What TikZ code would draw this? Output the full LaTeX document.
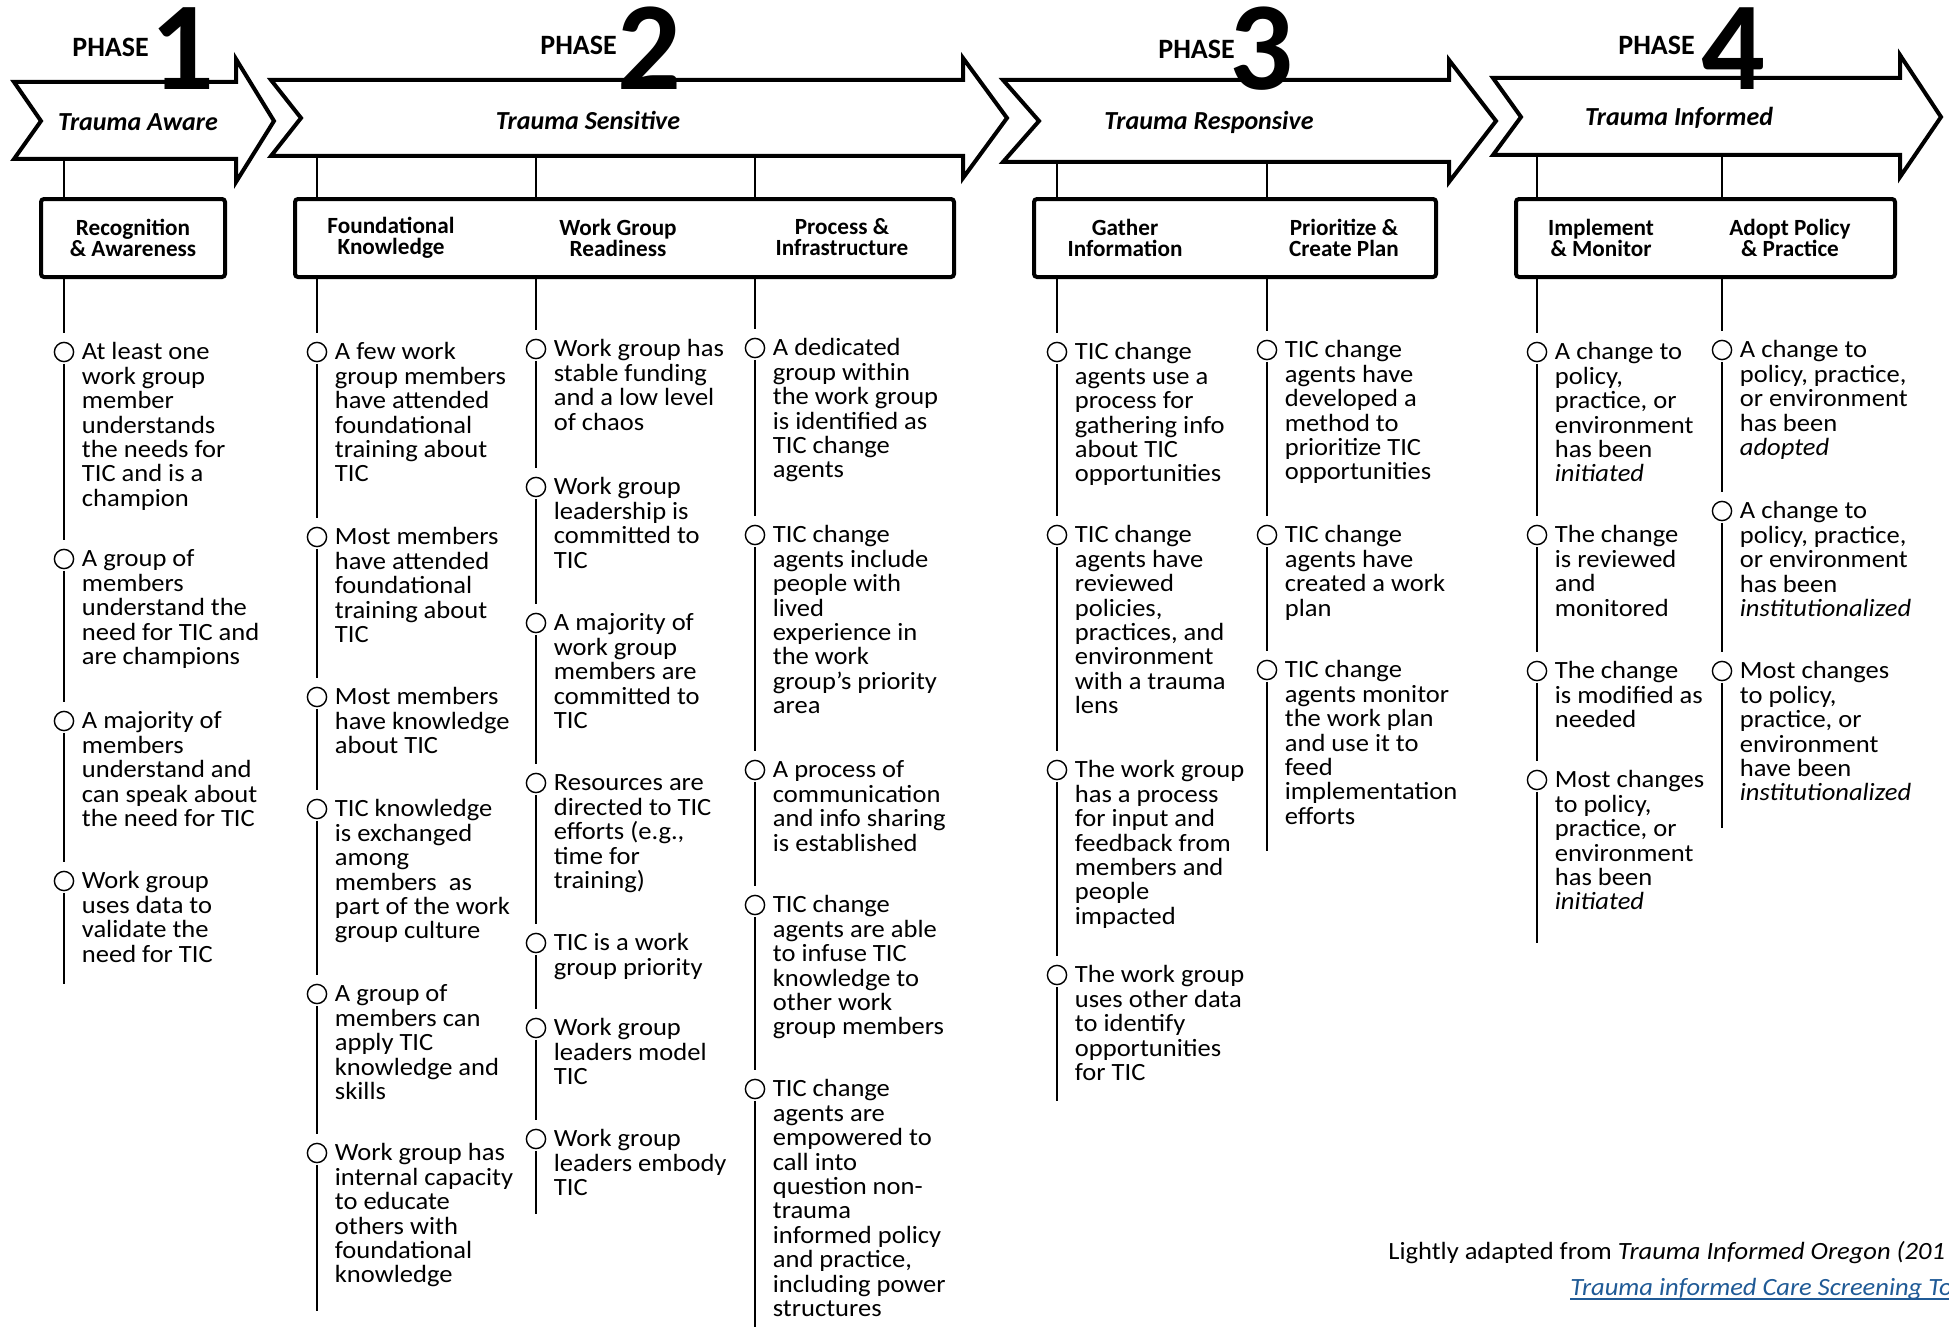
\documentclass[tikz,border=0pt]{standalone}
\usepackage{fontspec}
\setmainfont{Carlito}[FakeStretch=1.07]
\newfontfamily\headfont{Carlito}
\usepackage{tikz}
\usetikzlibrary{calc}
\definecolor{linkblue}{HTML}{1F5A96}
% one checklist entry: circle and its text
\newcommand{\titem}[4]{%
  \node[bul] (#1) at (#2,#3) {};
  \node[itm] (#1t) at ([xshift=8.75pt,yshift=6.25pt]#1.center) {\rule{0pt}{10pt}#4};}

\begin{document}
\begin{tikzpicture}[x=0.5pt, y=-0.5pt,
    phase/.style={draw, line width=2pt, fill=white, line join=miter},
    box/.style={draw, line width=2pt, rounded corners=1.5pt, minimum width=#1, minimum height=39pt, inner sep=0pt},
    bul/.style={circle, draw, line width=0.7pt, minimum size=9.6pt, inner sep=0pt},
    itm/.style={anchor=north west, align=left, inner sep=0pt, font=\fontsize{12.4}{12.2}\selectfont},
    vl/.style={line width=0.7pt, shorten >=4.5pt, shorten <=0.8pt},
    num/.style={anchor=base, inner sep=0pt, text height=40pt, text depth=0pt, font=\headfont\bfseries\fontsize{63}{63}\selectfont},
    ph/.style={anchor=base west, inner sep=0pt, font=\headfont\bfseries\fontsize{14}{14}\selectfont},
    lab/.style={inner sep=0pt, font=\headfont\bfseries\itshape\fontsize{13}{13}\selectfont},
    hd/.style={align=center, inner sep=0pt, font=\headfont\bfseries\fontsize{11.6}{10.5}\selectfont},
    foot/.style={anchor=base west, inner sep=0pt, font=\fontsize{12.4}{12.4}\selectfont}]
  \useasboundingbox (0,0) rectangle (1949,1327);
  \clip (0,0) rectangle (1949,1327);

  % the four phase arrows
  \draw[phase] (14,82) -- (236,82) -- (236,59) -- (274,121) -- (236,182) -- (236,159) -- (14,159) -- (41,121) -- cycle;
  \draw[phase] (271,80) -- (963,80) -- (963,58) -- (1007,118) -- (963,178) -- (963,156) -- (271,156) -- (301,118) -- cycle;
  \draw[phase] (1003,80) -- (1449,80) -- (1449,60) -- (1496,121) -- (1449,182) -- (1449,162) -- (1003,162) -- (1039,121) -- cycle;
  \draw[phase] (1493,78) -- (1900,78) -- (1900,55) -- (1941,117) -- (1900,177) -- (1900,155) -- (1493,155) -- (1521,117) -- cycle;
  \coordinate (a1) at (0,159);
  \coordinate (a2) at (0,156);
  \coordinate (a3) at (0,162);
  \coordinate (a4) at (0,155);

  \node[lab] (l1) at (138,122) {Trauma Aware};
  \node[lab] (l2) at (588,120) {Trauma Sensitive};
  \node[lab] (l3) at (1209,122) {Trauma Responsive};
  \node[lab] (l4) at (1679,118) {Trauma Informed};

  \foreach \n/\px/\py/\dx in {1/72/57/182, 2/540/55/649, 3/1158/59/1261, 4/1618/55/1733} {
    \node[ph] (p\n) at (\px,\py) {PHASE};
    \node[num] (n\n) at (\dx,90) {\n};
  }

  % stage boxes
  \node[box=92pt] (bx1) at (133,238) {};
  \node[box=329.5pt] (bx2) at (624.5,238) {};
  \node[box=201pt] (bx3) at (1235,238) {};
  \node[box=189.5pt] (bx4) at (1705.5,238) {};
  \node[hd] (h1) at (133,237.5) {Recognition\\\& Awareness};
  \node[hd] (h2) at (391,237.5) {Foundational\\Knowledge};
  \node[hd] (h3) at (618,237.5) {Work Group\\Readiness};
  \node[hd] (h4) at (842,237.5) {Process \&\\Infrastructure};
  \node[hd] (h5) at (1125,237.5) {Gather\\Information};
  \node[hd] (h6) at (1344,237.5) {Prioritize \&\\Create Plan};
  \node[hd] (h7) at (1601,237.5) {Implement\\\& Monitor};
  \node[hd] (h8) at (1790,237.5) {Adopt Policy\\\& Practice};

  % Recognition & Awareness
  \titem{c1-1}{64}{352}{At least one\\work group\\member\\understands\\the needs for\\TIC and is a\\champion}
  \titem{c1-2}{64}{559}{A group of\\members\\understand the\\need for TIC and\\are champions}
  \titem{c1-3}{64}{721}{A majority of\\members\\understand and\\can speak about\\the need for TIC}
  \titem{c1-4}{64}{881}{Work group\\uses data to\\validate the\\need for TIC}

  % Foundational Knowledge
  \titem{c2-1}{317}{352}{A few work\\group members\\have attended\\foundational\\training about\\TIC}
  \titem{c2-2}{317}{537}{Most members\\have attended\\foundational\\training about\\TIC}
  \titem{c2-3}{317}{697}{Most members\\have knowledge\\about TIC}
  \titem{c2-4}{317}{809}{TIC knowledge\\is exchanged\\among\\members~ as\\part of the work\\group culture}
  \titem{c2-5}{317}{994}{A group of\\members can\\apply TIC\\knowledge and\\skills}
  \titem{c2-6}{317}{1153}{Work group has\\internal capacity\\to educate\\others with\\foundational\\knowledge}

  % Work Group Readiness
  \titem{c3-1}{536}{349}{Work group has\\stable funding\\and a low level\\of chaos}
  \titem{c3-2}{536}{487}{Work group\\leadership is\\committed to\\TIC}
  \titem{c3-3}{536}{623}{A majority of\\work group\\members are\\committed to\\TIC}
  \titem{c3-4}{536}{783}{Resources are\\directed to TIC\\efforts (e.g.,\\time for\\training)}
  \titem{c3-5}{536}{943}{TIC is a work\\group priority}
  \titem{c3-6}{536}{1028}{Work group\\leaders model\\TIC}
  \titem{c3-7}{536}{1139}{Work group\\leaders embody\\TIC}

  % Process & Infrastructure
  \titem{c4-1}{755}{348}{A dedicated\\group within\\the work group\\is identified as\\TIC change\\agents}
  \titem{c4-2}{755}{535}{TIC change\\agents include\\people with\\lived\\experience in\\the work\\group’s priority\\area}
  \titem{c4-3}{755}{770}{A process of\\communication\\and info sharing\\is established}
  \titem{c4-4}{755}{905}{TIC change\\agents are able\\to infuse TIC\\knowledge to\\other work\\group members}
  \titem{c4-5}{755}{1089}{TIC change\\agents are\\empowered to\\call into\\question non-\\trauma\\informed policy\\and practice,\\including power\\structures}

  % Gather Information
  \titem{c5-1}{1057}{352}{TIC change\\agents use a\\process for\\gathering info\\about TIC\\opportunities}
  \titem{c5-2}{1057}{535}{TIC change\\agents have\\reviewed\\policies,\\practices, and\\environment\\with a trauma\\lens}
  \titem{c5-3}{1057}{770}{The work group\\has a process\\for input and\\feedback from\\members and\\people\\impacted}
  \titem{c5-4}{1057}{975}{The work group\\uses other data\\to identify\\opportunities\\for TIC}

  % Prioritize & Create Plan
  \titem{c6-1}{1267}{350}{TIC change\\agents have\\developed a\\method to\\prioritize TIC\\opportunities}
  \titem{c6-2}{1267}{535}{TIC change\\agents have\\created a work\\plan}
  \titem{c6-3}{1267}{670}{TIC change\\agents monitor\\the work plan\\and use it to\\feed\\implementation\\efforts}

  % Implement & Monitor
  \titem{c7-1}{1537}{352}{A change to\\policy,\\practice, or\\environment\\has been\\\textit{initiated}}
  \titem{c7-2}{1537}{535}{The change\\is reviewed\\and\\monitored}
  \titem{c7-3}{1537}{671}{The change\\is modified as\\needed}
  \titem{c7-4}{1537}{780}{Most changes\\to policy,\\practice, or\\environment\\has been\\\textit{initiated}}

  % Adopt Policy & Practice
  \titem{c8-1}{1722}{350}{A change to\\policy, practice,\\or environment\\has been\\\textit{adopted}}
  \titem{c8-2}{1722}{511}{A change to\\policy, practice,\\or environment\\has been\\\textit{institutionalized}}
  \titem{c8-3}{1722}{671}{Most changes\\to policy,\\practice, or\\environment\\have been\\\textit{institutionalized}}

  % connectors: arrow -> box -> first item, then item to item
  \foreach \c/\a/\b/\last/\e in {1/a1/bx1/4/984, 2/a2/bx2/6/1311, 3/a2/bx2/7/1214, 4/a2/bx2/5/1330, 5/a3/bx3/4/1101, 6/a3/bx3/3/851, 7/a4/bx4/4/943, 8/a4/bx4/3/828} {
    \draw[vl, shorten <=0pt, shorten >=0pt] (c\c-1 |- \a) -- (c\c-1 |- \b.north);
    \draw[vl, shorten <=0pt] (c\c-1 |- \b.south) -- (c\c-1);
    \coordinate (e\c) at (c\c-1 |- 0,\e);
    \draw[vl, shorten >=0pt] (c\c-\last) -- (e\c);
    \foreach \j [evaluate=\j as \i using int(\j-1)] in {2,...,\last}
      \draw[vl] (c\c-\i) -- (c\c-\j);
  }

  % source note
  \node[foot] (src) at (1388,1259) {Lightly adapted from \textit{Trauma Informed Oregon (201}};
  \node[foot, text=linkblue] (lnk) at (1570,1295) {\textit{Trauma informed Care Screening To}};
  \draw[linkblue, line width=0.6pt] ([yshift=-2pt]lnk.base west) -- ([yshift=-2pt]lnk.base east);
\end{tikzpicture}
\end{document}
